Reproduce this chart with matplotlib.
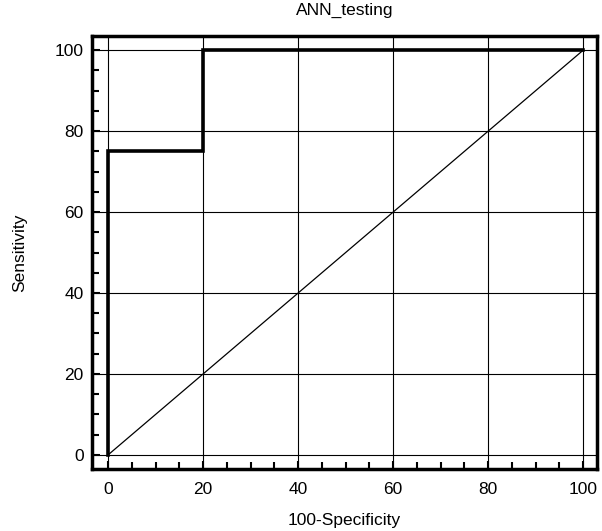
import matplotlib.pyplot as plt
from matplotlib.ticker import MultipleLocator

plt.rcParams['font.family'] = ['Liberation Sans', 'DejaVu Sans']

# ROC points (100-specificity, sensitivity)
fpr = [0, 0, 20, 20, 100]
tpr = [0, 75, 75, 100, 100]
ref_x = [0, 100]
ref_y = [0, 100]
ticks = [0, 20, 40, 60, 80, 100]

fig = plt.figure(figsize=(6.02, 5.31), dpi=100)
ax = fig.add_axes([92/602, 1-469/531, (597-92)/602, (469-36)/531])

ax.plot(ref_x, ref_y, color='black', lw=0.9)
ax.plot(fpr, tpr, color='black', lw=2.6, solid_joinstyle='miter')

ax.set_xlim(-3.4, 102.9)
ax.set_ylim(-3.5, 103.5)
ax.set_xticks(ticks)
ax.set_yticks(ticks)
ax.xaxis.set_minor_locator(MultipleLocator(5))
ax.yaxis.set_minor_locator(MultipleLocator(5))
ax.tick_params(which='both', direction='in', top=False, right=False, width=1.5, labelsize=12.5)
ax.tick_params(which='major', length=6)
ax.tick_params(which='minor', length=5)
ax.tick_params(axis='x', pad=9)
ax.tick_params(axis='y', pad=6)
ax.grid(True, which='major', color='black', lw=0.8)

for s in ax.spines.values():
    s.set_linewidth(2.5)

ax.set_title('ANN_testing', fontsize=12.5, pad=15)
ax.set_xlabel('100-Specificity', fontsize=12.5, labelpad=12)
ax.set_ylabel('Sensitivity', fontsize=12.5, labelpad=20)

fig.savefig('out.png', dpi=100)
